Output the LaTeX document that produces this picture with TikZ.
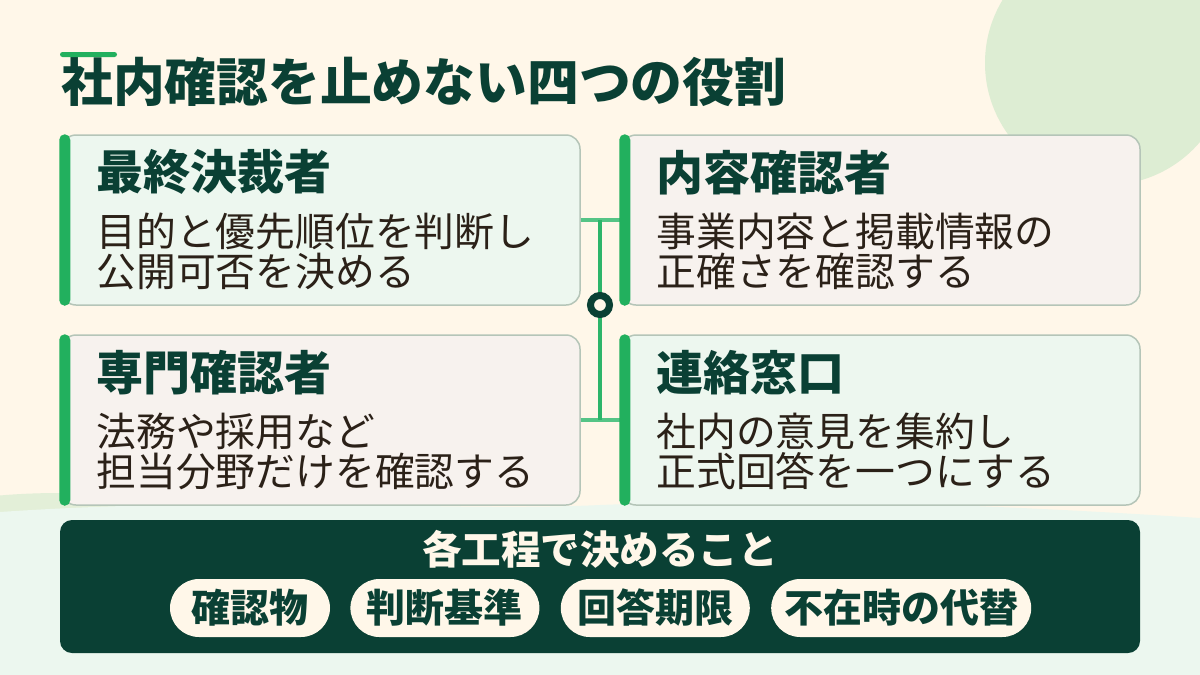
\documentclass[tikz,border=0pt]{standalone}
\usepackage{fontspec}
\setmainfont{Noto Sans CJK JP}
\usetikzlibrary{positioning}
\definecolor{cream}{HTML}{FFF7E9}
\definecolor{mintbg}{HTML}{ECF7EF}
\definecolor{blobgreen}{HTML}{DDEDD3}
\definecolor{hillgreen}{HTML}{E3EFD8}
\definecolor{deep}{HTML}{0A4034}
\definecolor{accent}{HTML}{22B05E}
\definecolor{mintcard}{HTML}{EDF7EF}
\definecolor{warmcard}{HTML}{F7F2EE}
\definecolor{cardline}{HTML}{B5C5B8}
\definecolor{ink}{HTML}{2B2118}
\definecolor{linkgreen}{HTML}{55C486}
\definecolor{spinegreen}{HTML}{2DB56A}

\begin{document}
\begin{tikzpicture}[x=1pt,y=-1pt,
    card/.style={draw=cardline, line width=1.5pt, rounded corners=14pt, minimum width=518pt, minimum height=170pt, inner sep=0pt},
    head/.style={anchor=west, inner sep=0pt, text=deep, font=\fontsize{47}{50}\selectfont\bfseries},
    body/.style={anchor=west, inner sep=0pt, align=left, text=ink, font=\fontsize{39.8}{40}\selectfont},
    link/.style={draw=linkgreen, line width=4pt},
    spine/.style={draw=spinegreen, line width=4pt},
    hubring/.style={circle, draw=deep, fill=cream, line width=7pt, minimum size=19pt, inner sep=0pt},
    panel/.style={fill=deep, rounded corners=12pt, minimum width=1080pt, minimum height=133pt, inner sep=0pt},
    pill/.style={fill=cream, rounded corners=29pt, minimum height=58pt, inner sep=0pt, text=deep, font=\fontsize{39}{40}\selectfont\bfseries}
  ]
    % background
    \path[use as bounding box, fill=cream] (0,0) rectangle (1200,675);
    \fill[blobgreen] (1107,63) circle[radius=122pt];
    \fill[hillgreen] (60,515) ellipse[x radius=130pt, y radius=22pt];
    \fill[mintbg] (0,512) .. controls (250,495) and (450,512) .. (600,505) .. controls (800,497) and (1000,505) .. (1200,518) -- (1200,675) -- (0,675) -- cycle;

    % title
    \node[anchor=west, inner sep=0pt, text=deep, font=\fontsize{51.8}{54}\selectfont\bfseries] (title) at (61,82) {社内確認を止めない四つの役割};
    \fill[accent, rounded corners=2.5pt] (60,52) rectangle (117,57);

    % cards
    \node[card, fill=mintcard] (c1) at (321,220) {};
    \node[card, fill=warmcard] (c2) at (881,220) {};
    \node[card, fill=warmcard] (c3) at (321,420) {};
    \node[card, fill=mintcard] (c4) at (881,420) {};

    % connectors
    \coordinate (mid) at (600,305);
    \draw[link] (c1.east) -- (c2.west);
    \draw[link] (c3.east) -- (c4.west);
    \draw[spine] (mid |- c1.east) -- (mid |- c3.east);
    \node[hubring] (hub) at (mid) {};

    \foreach \c in {c1,c2,c3,c4}
        \fill[accent, rounded corners=5.5pt] ([xshift=-2pt]\c.north west) rectangle ([xshift=9pt]\c.south west);

    \node[head] (h1) at ([shift={(35pt,-38pt)}]c1.north west) {最終決裁者};
    \node[body] (b1) at ([shift={(35pt,-117pt)}]c1.north west) {目的と優先順位を判断し\\公開可否を決める};
    \node[head] (h2) at ([shift={(35pt,-38pt)}]c2.north west) {内容確認者};
    \node[body] (b2) at ([shift={(35pt,-117pt)}]c2.north west) {事業内容と掲載情報の\\正確さを確認する};
    \node[head] (h3) at ([shift={(35pt,-38pt)}]c3.north west) {専門確認者};
    \node[body] (b3) at ([shift={(35pt,-117pt)}]c3.north west) {法務や採用など\\担当分野だけを確認する};
    \node[head] (h4) at ([shift={(35pt,-38pt)}]c4.north west) {連絡窓口};
    \node[body] (b4) at ([shift={(35pt,-117pt)}]c4.north west) {社内の意見を集約し\\正式回答を一つにする};

    % bottom panel
    \node[panel] (panel) at (600,586.5) {};
    \node[inner sep=0pt, text=cream, font=\fontsize{39.5}{40}\selectfont\bfseries] (ptitle) at ([yshift=-30pt]panel.north) {各工程で決めること};
    \node[pill, minimum width=160pt] (p1) at (250,608) {確認物};
    \node[pill, minimum width=189pt, right=20pt of p1] (p2) {判断基準};
    \node[pill, minimum width=189pt, right=21pt of p2] (p3) {回答期限};
    \node[pill, minimum width=260pt, right=21pt of p3] (p4) {不在時の代替};
\end{tikzpicture}
\end{document}
